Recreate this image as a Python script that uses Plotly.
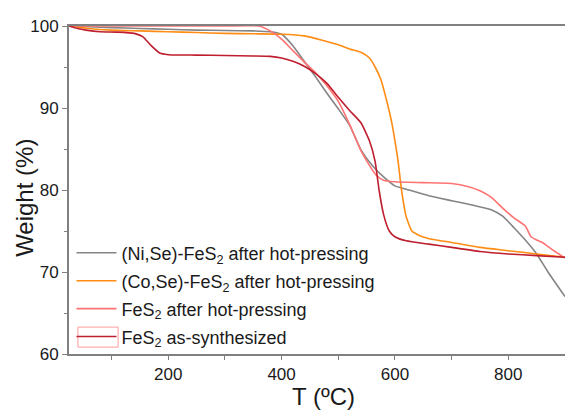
import plotly.graph_objects as go

# (Ni,Se)-FeS2 after hot-pressing
t_ni = [25, 60, 100, 150, 200, 250, 300, 350, 380, 400, 420, 440, 460, 480, 500, 520, 540, 560, 580, 600, 620, 660, 700, 740, 770, 790, 810, 830, 850, 870, 900]
w_ni = [100, 99.9, 99.8, 99.7, 99.6, 99.5, 99.45, 99.4, 99.3, 99.0, 97.6, 95.7, 93.8, 91.8, 89.9, 87.9, 84.9, 83.0, 81.6, 80.5, 80.1, 79.3, 78.7, 78.1, 77.6, 76.8, 75.4, 73.9, 72.2, 70.0, 67.0]

# (Co,Se)-FeS2 after hot-pressing
t_co = [25, 60, 100, 150, 200, 250, 300, 350, 400, 440, 470, 500, 520, 540, 555, 565, 575, 585, 595, 600, 605, 612, 620, 630, 645, 665, 700, 750, 800, 850, 900]
w_co = [100, 99.7, 99.5, 99.4, 99.3, 99.2, 99.1, 99.05, 99.0, 98.8, 98.3, 97.7, 97.2, 96.8, 96.1, 95.0, 93.5, 91.0, 88.0, 86.0, 83.8, 79.8, 76.7, 75.0, 74.4, 74.0, 73.6, 73.0, 72.6, 72.2, 71.8]

# FeS2 after hot-pressing
t_hp = [25, 100, 200, 300, 360, 380, 400, 420, 440, 460, 480, 500, 520, 540, 555, 567, 580, 600, 650, 700, 730, 750, 770, 790, 810, 830, 840, 850, 860, 880, 900]
w_hp = [100, 100, 100, 100, 100, 99.4, 98.4, 97.0, 95.6, 94.3, 92.7, 90.8, 88.0, 84.8, 83.0, 81.8, 81.2, 81.0, 80.9, 80.8, 80.4, 79.9, 79.1, 77.8, 76.6, 75.6, 74.3, 73.9, 73.6, 72.6, 71.7]

# FeS2 as-synthesized
t_as = [25, 40, 55, 80, 110, 140, 155, 170, 185, 200, 250, 300, 350, 380, 400, 420, 440, 460, 480, 500, 520, 540, 555, 565, 572, 580, 590, 600, 620, 660, 700, 750, 800, 850, 900]
w_as = [100, 99.7, 99.5, 99.3, 99.25, 99.1, 98.7, 97.6, 96.7, 96.5, 96.45, 96.4, 96.35, 96.3, 96.1, 95.7, 95.1, 94.2, 93.0, 91.3, 89.7, 88.2, 86.0, 83.5, 80.0, 77.0, 75.0, 74.3, 73.8, 73.4, 73.0, 72.5, 72.2, 72.0, 71.8]

names = ["(Ni,Se)-FeS<sub>2</sub> after hot-pressing",
         "(Co,Se)-FeS<sub>2</sub> after hot-pressing",
         "FeS<sub>2</sub> after hot-pressing",
         "FeS<sub>2</sub> as-synthesized"]
colors = ["#858585", "#FF8C14", "#FF7373", "#BE1E2D"]
xs = [t_ni, t_co, t_hp, t_as]
ys = [w_ni, w_co, w_hp, w_as]

fig = go.Figure()
for i, (x, y, n, c) in enumerate(zip(xs, ys, names, colors)):
    fig.add_trace(go.Scatter(x=x, y=y, name=n, mode="lines", legendgroup=str(i),
                             line=dict(color=c, width=1.6, shape="spline", smoothing=0.5)))

# outlined box around the last legend sample, as in the reference
fig.add_shape(type="rect", xref="paper", yref="paper",
              x0=0.018, x1=0.099, y0=0.021, y1=0.082,
              line=dict(color="#FF9A9A", width=1), fillcolor="rgba(0,0,0,0)")

font_family = "Liberation Sans, Arial, sans-serif"
fig.update_layout(
    width=565, height=410,
    margin=dict(l=69, r=0, t=26, b=56),
    plot_bgcolor="white", paper_bgcolor="white",
    font=dict(family=font_family, color="#1a1a1a", size=17),
    showlegend=True,
    legend=dict(x=0.005, y=0.364, xanchor="left", yanchor="top",
                bgcolor="rgba(0,0,0,0)", font=dict(size=18),
                tracegroupgap=1.5, itemwidth=40),
    xaxis=dict(range=[25, 900], tickvals=[200, 400, 600, 800], ticks="outside", ticklen=4,
               tickcolor="#808080", showline=True, linecolor="#808080", linewidth=1.8,
               mirror=True, showgrid=False, zeroline=False,
               minor=dict(dtick=100, tick0=0, ticks="outside", ticklen=4, tickcolor="#808080"),
               tickfont=dict(size=17)),
    yaxis=dict(range=[60, 100], tickvals=[60, 70, 80, 90, 100], ticks="outside", ticklen=5,
               tickcolor="#808080", showline=True, linecolor="#808080", linewidth=1.8,
               showgrid=False, zeroline=False,
               minor=dict(dtick=5, tick0=0, ticks="outside", ticklen=3, tickcolor="#808080"),
               tickfont=dict(size=17)),
    annotations=[
        dict(text="T (ºC)", xref="paper", yref="paper", x=0.514, y=-0.131,
             xanchor="center", yanchor="middle", showarrow=False, font=dict(size=24)),
        dict(text="Weight (%)", xref="paper", yref="paper", x=0, xshift=-44, y=0.476,
             xanchor="center", yanchor="middle", textangle=-90, showarrow=False,
             font=dict(size=24)),
    ],
)

fig.write_html("out.html")
